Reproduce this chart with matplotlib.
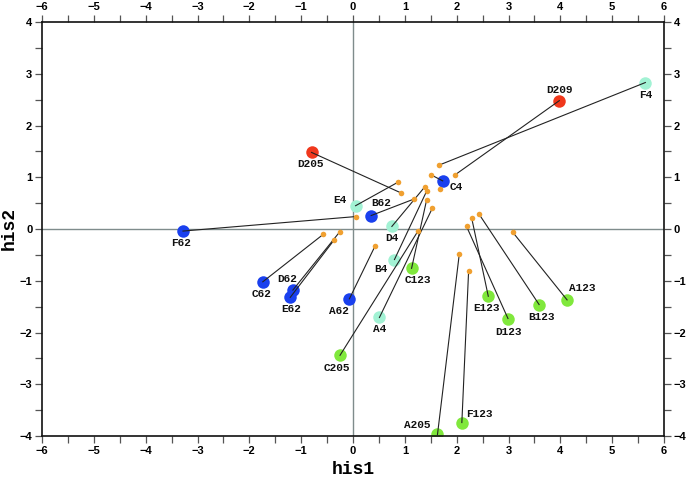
import matplotlib
matplotlib.use("Agg")
import matplotlib.pyplot as plt
from matplotlib.ticker import MultipleLocator

# ---- data ----
labels = ["F4", "D209", "D205", "C4", "E4", "B62", "D4", "F62", "B4", "C123",
          "C62", "D62", "E62", "A62", "A4", "C205", "A205", "F123", "E123",
          "D123", "B123", "A123"]
groups = ["4", "209", "205", "62", "4", "62", "4", "62", "4", "123",
          "62", "62", "62", "62", "4", "205", "205", "123", "123",
          "123", "123", "123"]
x_vals = [5.64, 3.98, -0.80, 1.73, 0.05, 0.35, 0.75, -3.28, 0.80, 1.13,
          -1.74, -1.16, -1.21, -0.07, 0.51, -0.25, 1.63, 2.10, 2.61,
          2.99, 3.59, 4.13]
y_vals = [2.83, 2.48, 1.48, 0.93, 0.45, 0.26, 0.05, -0.04, -0.59, -0.76,
          -1.02, -1.18, -1.32, -1.35, -1.71, -2.44, -3.97, -3.74, -1.30,
          -1.73, -1.46, -1.37]
# partner (small orange) points
px_vals = [1.65, 1.96, 0.92, 1.50, 0.86, 1.18, 1.39, 0.05, 1.42, 1.42,
           -0.57, -0.26, -0.37, 0.43, 1.53, 1.26, 2.05, 2.23, 2.29,
           2.19, 2.43, 3.08]
py_vals = [1.23, 1.04, 0.70, 1.05, 0.90, 0.58, 0.82, 0.24, 0.73, 0.56,
           -0.10, -0.06, -0.22, -0.32, 0.40, -0.03, -0.49, -0.82, 0.21,
           0.05, 0.29, -0.06]
extra_x = [1.68]
extra_y = [0.78]

# ---- style ----
group_colors = {"4": "#a2f2d4", "62": "#1a40ee", "123": "#80e83c",
                "205": "#80e83c", "209": "#f0381c"}
special = {"D205": "#f0381c", "D209": "#f0381c"}
# label offsets (pixels)
offsets = {"F4": (0, -12), "D209": (0, 11), "D205": (-1, -12), "C4": (14, -6),
           "E4": (-16, 6), "B62": (10, 13), "D4": (0, -12), "F62": (-2, -12),
           "B4": (-14, -9), "C123": (6, -12), "C62": (-1, -12), "D62": (-6, 11),
           "E62": (1, -12), "A62": (-10, -12), "A4": (0, -12), "C205": (-3, -13),
           "A205": (-20, 9), "F123": (18, 9), "E123": (-2, -12), "D123": (1, -13),
           "B123": (2, -12), "A123": (15, 12)}

W, H = 692, 479
fig = plt.figure(figsize=(W / 100, H / 100), dpi=100)
ax = fig.add_axes([42 / W, 1 - 436 / H, 622 / W, 414 / H])
ax.set_xlim(-6, 6)
ax.set_ylim(-4, 4)

ax.axhline(0, color="#7f8c8c", lw=1.0, zorder=1)
ax.axvline(0, color="#7f8c8c", lw=1.0, zorder=1)

for i, lab in enumerate(labels):
    col = special.get(lab, group_colors[groups[i]])
    ax.plot([x_vals[i]], [y_vals[i]], "o", ms=9, color=col, mec="none", zorder=2)
    ax.plot([x_vals[i], px_vals[i]], [y_vals[i], py_vals[i]], "-",
            color="#222222", lw=0.8, zorder=3)
    ax.annotate(lab, (x_vals[i], y_vals[i]), xytext=offsets[lab],
                textcoords="offset pixels", ha="center", va="center",
                fontsize=8, fontweight="bold", family="Liberation Mono",
                color="#111111", zorder=5)

ax.plot(px_vals, py_vals, "o", ms=4, color="#f0a030", mec="none", zorder=4)
ax.plot(extra_x, extra_y, "o", ms=4, color="#f0a030", mec="none", zorder=4)

ax.xaxis.set_major_locator(MultipleLocator(1))
ax.xaxis.set_minor_locator(MultipleLocator(0.5))
ax.yaxis.set_major_locator(MultipleLocator(1))
ax.yaxis.set_minor_locator(MultipleLocator(0.5))
ax.tick_params(which="both", direction="out", top=True, right=True,
               labeltop=True, labelright=True, length=5, width=0.9,
               color="#555555")
ax.tick_params(which="major", pad=2, labelsize=8)
for t in ax.get_xticklabels() + ax.get_yticklabels():
    t.set_fontweight("bold")
    t.set_family("Liberation Sans")
for sp in ax.spines.values():
    sp.set_linewidth(1.2)
    sp.set_color("#111111")

ax.set_xlabel("his1", fontsize=13, fontweight="bold", family="Liberation Mono",
              labelpad=4)
fig.text(9 / W, 1 - 229 / H, "his2", rotation=90, ha="center", va="center",
         fontsize=13, fontweight="bold", family="Liberation Mono")

fig.savefig("out.png", dpi=100)
